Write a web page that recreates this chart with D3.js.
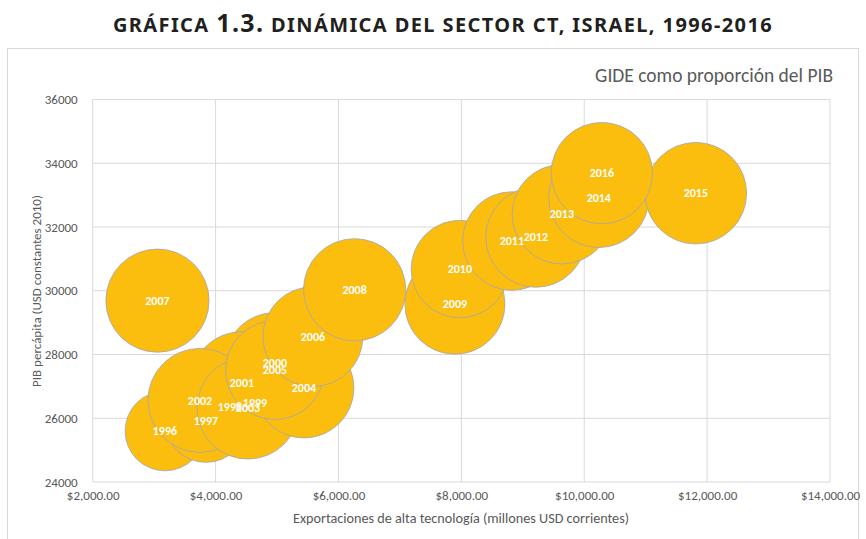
<!DOCTYPE html>
<html>
<head>
<meta charset="utf-8">
<script src="https://cdn.jsdelivr.net/npm/d3@7"></script>
<style>
  body { margin: 0; background: #fff; }
  text { font-family: Carlito, Lato, "Open Sans", sans-serif; }
</style>
</head>
<body>
<div id="chart-area"></div>
<script>
// values
const years = ["1996","1997","1998","1999","2000","2001","2002","2003","2004","2005","2006",
               "2007","2008","2009","2010","2011","2012","2013","2014","2015","2016"]
const exportsHT = [3176, 3843, 4234, 4641, 4966, 4429, 3746, 4527, 5438, 4966, 5584,
                   3054, 6263, 7895, 7976, 8822, 9212, 9636, 10237, 11816, 10286]
const gdpPerCapita = [25600, 25910, 26350, 26480, 27730, 27100, 26560, 26320, 26950, 27510, 28560,
                      29690, 30030, 29580, 30680, 31560, 31680, 32400, 32930, 33060, 33690]
const gide = [2.63, 2.82, 3.01, 3.48, 4.23, 4.40, 4.48, 4.31, 4.14, 4.04, 4.13,
              4.41, 4.33, 4.15, 3.93, 4.02, 4.15, 4.10, 4.17, 4.27, 4.25]
const xTicks = [2000, 4000, 6000, 8000, 10000, 12000, 14000]
const yTicks = [24000, 26000, 28000, 30000, 32000, 34000, 36000]

function drawChart() {
    const svgWidth = 866
    const svgHeight = 539
    const plot = { left: 92.7, right: 830, top: 99.5, bottom: 482 }

    const svg = d3.select("#chart-area")
                .append("svg")
                .attr("width", svgWidth)
                .attr("height", svgHeight)

    // chart frame
    svg.append("rect")
        .attr("x", 7.5).attr("y", 48.5)
        .attr("width", 851).attr("height", 510)
        .attr("fill", "none")
        .attr("stroke", "#d9d9d9")

    // title
    const title = svg.append("text")
        .attr("x", 443).attr("y", 32)
        .attr("text-anchor", "middle")
        .attr("fill", "#231f20")
        .style("font-family", "'Noto Sans', sans-serif")
        .style("font-weight", "bold")
        .style("font-size", "20px")
        .style("letter-spacing", "1.4px")
    title.append("tspan").text("GRÁFICA ")
    title.append("tspan").style("font-size", "25px").text("1.3.")
    title.append("tspan").text(" DINÁMICA DEL SECTOR CT, ISRAEL, 1996-2016")

    const x = d3.scaleLinear().domain([2000, 14000]).range([plot.left, plot.right])
    const y = d3.scaleLinear().domain([24000, 36000]).range([plot.bottom, plot.top])
    const r = d3.scaleSqrt().domain([0, d3.max(gide)]).range([0, 52])

    // gridlines
    svg.append("g").selectAll("line")
        .data(yTicks).enter().append("line")
        .attr("x1", plot.left).attr("x2", plot.right)
        .attr("y1", d => y(d)).attr("y2", d => y(d))
        .attr("stroke", "#d9d9d9")
    svg.append("g").selectAll("line")
        .data(xTicks).enter().append("line")
        .attr("x1", d => x(d)).attr("x2", d => x(d))
        .attr("y1", plot.top).attr("y2", plot.bottom)
        .attr("stroke", "#d9d9d9")

    // axes (labels only)
    const fmtX = d3.format("$,.2f")
    const xAxis = svg.append("g")
        .attr("transform", `translate(0, ${plot.bottom + 6})`)
        .call(d3.axisBottom(x).tickValues(xTicks).tickFormat(fmtX).tickSize(0))
    const yAxis = svg.append("g")
        .attr("transform", `translate(${plot.left - 12}, 0)`)
        .call(d3.axisLeft(y).tickValues(yTicks).tickFormat(d3.format("d")).tickSize(0))
    ;[xAxis, yAxis].forEach(a => {
        a.select(".domain").remove()
        a.selectAll("text")
            .attr("fill", "#595959")
            .style("font-size", "13px")
            .style("font-family", "Carlito, Lato, sans-serif")
    })

    // axis titles
    svg.append("text")
        .attr("x", 461).attr("y", 523)
        .attr("text-anchor", "middle")
        .attr("fill", "#595959")
        .style("font-size", "14.2px")
        .text("Exportaciones de alta tecnología (millones USD corrientes)")
    svg.append("text")
        .attr("transform", "translate(41, 291) rotate(-90)")
        .attr("text-anchor", "middle")
        .attr("fill", "#595959")
        .style("font-size", "13px")
        .text("PIB percápita (USD constantes 2010)")

    // legend-like subtitle
    svg.append("text")
        .attr("x", 833).attr("y", 82)
        .attr("text-anchor", "end")
        .attr("fill", "#595959")
        .style("font-size", "19.5px")
        .text("GIDE como proporción del PIB")

    const data = years.map((yr, i) => ({ year: yr, x: exportsHT[i], y: gdpPerCapita[i], s: gide[i] }))

    // bubbles, in data order (later years on top)
    svg.append("g").selectAll("circle")
        .data(data).enter().append("circle")
        .attr("cx", d => x(d.x))
        .attr("cy", d => y(d.y))
        .attr("r", d => r(d.s))
        .attr("fill", "#fbbe0e")
        .attr("stroke", "#a3a3b8")
        .attr("stroke-width", 0.8)

    svg.append("g").selectAll("text")
        .data(data).enter().append("text")
        .attr("x", d => x(d.x))
        .attr("y", d => y(d.y))
        .attr("dy", "0.35em")
        .attr("text-anchor", "middle")
        .attr("fill", "#fff")
        .style("font-weight", "bold")
        .style("font-size", "12px")
        .text(d => d.year)
}

drawChart()
</script>
</body>
</html>
